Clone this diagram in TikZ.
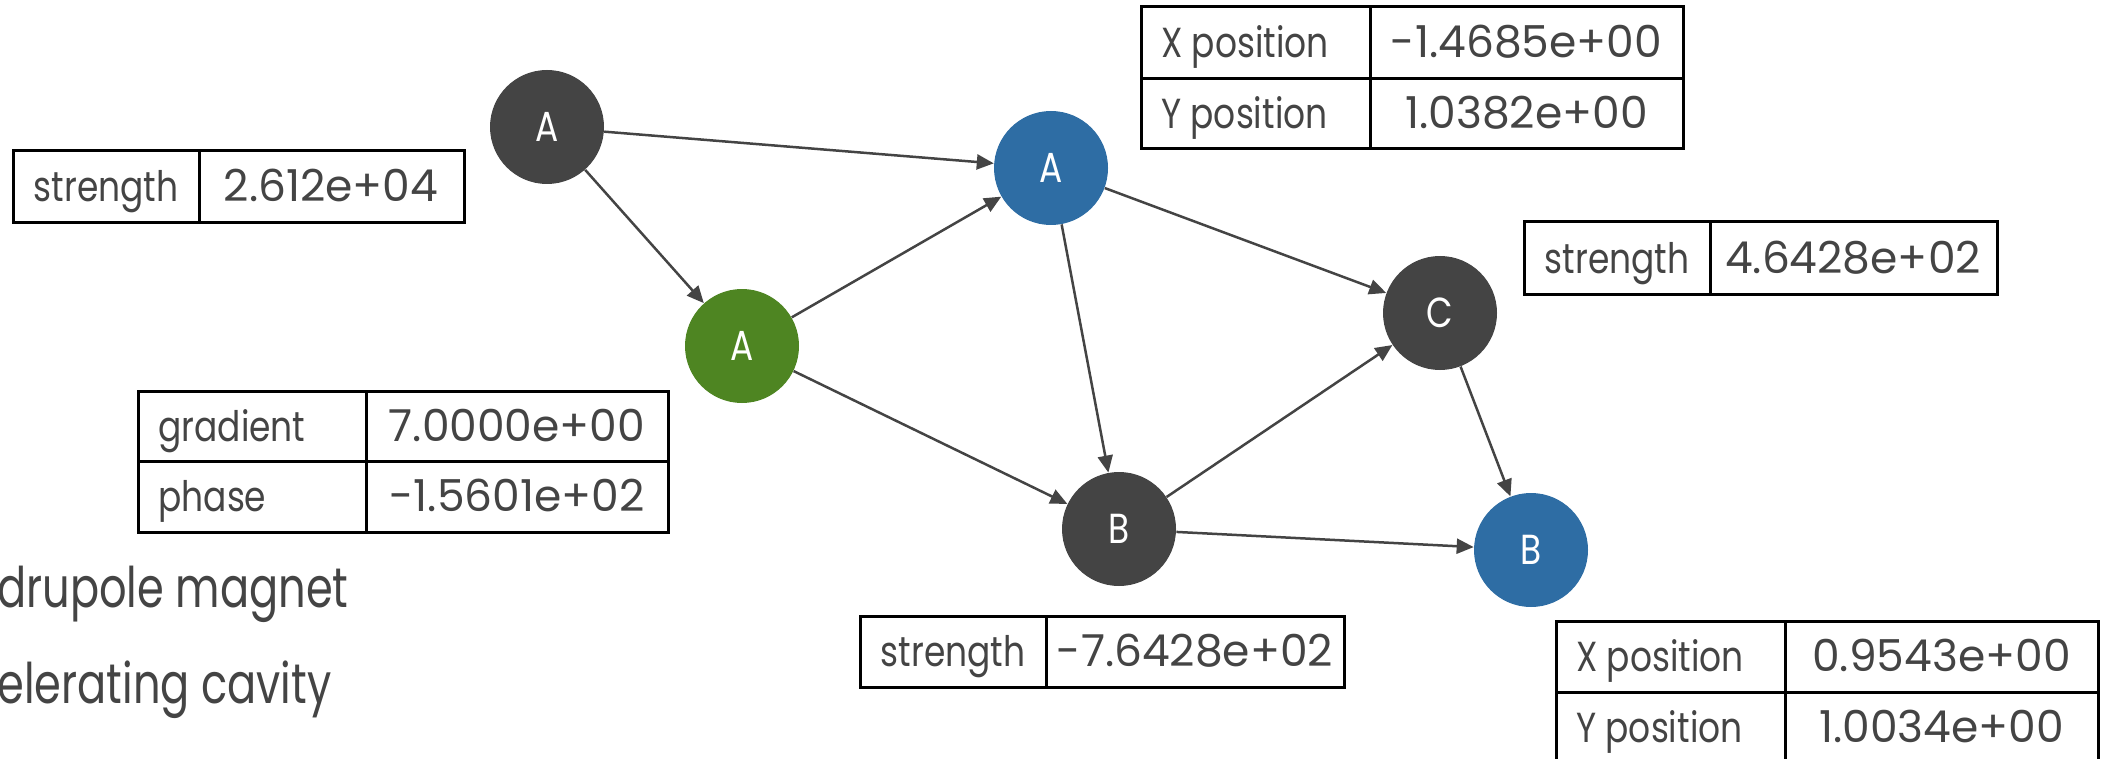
\documentclass[tikz,border=0pt]{standalone}
\usepackage{fontspec}
\setmainfont{Poppins}
\newfontfamily\labfont{Poppins}[FakeStretch=0.82]
\newfontfamily\legfont{Poppins}[FakeStretch=0.77]
\usetikzlibrary{arrows.meta}
\definecolor{dgrey}{HTML}{444444}
\definecolor{nblue}{HTML}{2E6DA4}
\definecolor{ngreen}{HTML}{4E8522}
\begin{document}
\begin{tikzpicture}[x=0.5pt,y=-0.5pt,
  elem/.style={circle,minimum size=57pt,inner sep=0pt,text=white,font=\labfont\fontsize{21}{25}\selectfont},
  edge/.style={draw=dgrey,line width=1.25pt,-{Triangle[length=8.5pt,width=7.5pt]}},
  cell/.style={draw=black,line width=1.5pt},
  txt/.style={inner sep=0pt,text=dgrey,font=\labfont\fontsize{21}{25}\selectfont},
  val/.style={inner sep=0pt,text=dgrey,font=\fontsize{22}{26}\selectfont},
  legend/.style={inner sep=0pt,text=dgrey,font=\legfont\fontsize{28}{32}\selectfont}]
\useasboundingbox (0,0) rectangle (2103,759);
\clip (0,0) rectangle (2103,759);
% elements
\node[elem,fill=dgrey]  (a1) at (547,127) {A};
\node[elem,fill=nblue]  (a2) at (1051,168) {A};
\node[elem,fill=ngreen] (a3) at (742,346) {A};
\node[elem,fill=dgrey]  (c1) at (1440,313) {C};
\node[elem,fill=dgrey]  (b1) at (1119,529) {B};
\node[elem,fill=nblue]  (b2) at (1531,550) {B};
% connectors
\draw[edge] (a1) -- (a2);
\draw[edge] (a1) -- (a3);
\draw[edge] (a3) -- (a2);
\draw[edge] (a3) -- (b1);
\draw[edge] (a2) -- (c1);
\draw[edge] (a2) -- (b1);
\draw[edge] (b1) -- (c1);
\draw[edge] (c1) -- (b2);
\draw[edge] (b1) -- (b2);
% table 1
\draw[cell] (13,151) rectangle (464,223) (199,151) -- (199,223);
\node[txt,anchor=base] (t1k) at (106,202) {strength};
\node[val,anchor=base] (t1v) at (331,202) {2.612e+04};
% table 2
\draw[cell] (138,391) rectangle (668,532) (138,461) -- (668,461) (366.5,391) -- (366.5,532);
\node[txt,anchor=base west] (t2k1) at (158,441) {gradient};
\node[val,anchor=base] (t2v1) at (517,441) {7.0000e+00};
\node[txt,anchor=base west] (t2k2) at (158,511) {phase};
\node[val,anchor=base] (t2v2) at (517,511) {-1.5601e+02};
% table 3
\draw[cell] (1141,7) rectangle (1683,149) (1141,79) -- (1683,79) (1370,7) -- (1370,149);
\node[txt,anchor=base west] (t3k1) at (1161,58) {X position};
\node[val,anchor=base] (t3v1) at (1526.5,58) {-1.4685e+00};
\node[txt,anchor=base west] (t3k2) at (1161,129) {Y position};
\node[val,anchor=base] (t3v2) at (1526.5,129) {1.0382e+00};
% table 4
\draw[cell] (1524,222) rectangle (1997,294) (1710,222) -- (1710,294);
\node[txt,anchor=base] (t4k) at (1617,273) {strength};
\node[val,anchor=base] (t4v) at (1853,273) {4.6428e+02};
% table 5
\draw[cell] (860,616) rectangle (1344,687) (1046,616) -- (1046,687);
\node[txt,anchor=base] (t5k) at (953,666.5) {strength};
\node[val,anchor=base] (t5v) at (1195,666.5) {-7.6428e+02};
% table 6
\draw[cell] (1556,621) rectangle (2098,763) (1556,692) -- (2098,692) (1785.5,621) -- (1785.5,763);
\node[txt,anchor=base west] (t6k1) at (1576,671.5) {X position};
\node[val,anchor=base] (t6v1) at (1941.5,671.5) {0.9543e+00};
\node[txt,anchor=base west] (t6k2) at (1576,742.5) {Y position};
\node[val,anchor=base] (t6v2) at (1941.5,742.5) {1.0034e+00};
% legend
\node[legend,anchor=base west] (l1) at (-3,607) {drupole magnet};
\node[legend,anchor=base west] (l2) at (-3,703) {elerating cavity};
\end{tikzpicture}
\end{document}
